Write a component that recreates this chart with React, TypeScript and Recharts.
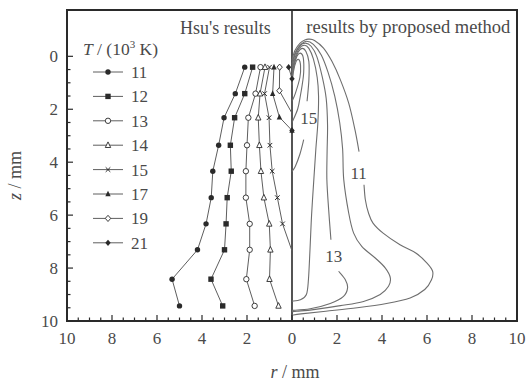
import {
  ComposedChart,
  Line,
  XAxis,
  YAxis,
  ReferenceArea,
  ReferenceLine,
  ReferenceDot,
  Legend,
} from "recharts";

// ---- data (r in mm, z in mm) ----
// Hsu's results (left half, plotted at -r)
const hsu11: [number, number][] = [[2.1, 0.41], [2.52, 1.41], [3.02, 2.32], [3.26, 3.36], [3.52, 4.34], [3.59, 5.34], [3.82, 6.33], [4.2, 7.31], [5.33, 8.42], [5.0, 9.43]];
const hsu12: [number, number][] = [[1.75, 0.41], [2.1, 1.41], [2.55, 2.32], [2.74, 3.36], [2.7, 4.34], [2.88, 5.34], [2.93, 6.33], [3.0, 7.31], [3.6, 8.42], [3.08, 9.43]];
const hsu13: [number, number][] = [[1.4, 0.41], [1.62, 1.41], [1.94, 2.32], [2.0, 3.36], [2.05, 4.34], [2.05, 5.34], [1.88, 6.33], [1.88, 7.31], [2.03, 8.42], [1.66, 9.43]];
const hsu14: [number, number][] = [[1.2, 0.41], [1.42, 1.41], [1.5, 2.32], [1.45, 3.36], [1.38, 4.34], [1.25, 5.34], [1.01, 6.33], [0.96, 7.31], [1.0, 8.42], [0.6, 9.43]];
const hsu15: [number, number][] = [[1.0, 0.41], [1.22, 1.41], [1.02, 2.32], [0.98, 3.36], [0.88, 4.34], [0.65, 5.34], [0.42, 6.33], [0, 7.35]];
const hsu17: [number, number][] = [[0.8, 0.41], [0.86, 1.41], [0.56, 2.3], [0, 2.8]];
const hsu19: [number, number][] = [[0.55, 0.41], [0.56, 1.3], [0, 2.15]];
const hsu21: [number, number][] = [[0.15, 0.41], [0, 0.85], [0, 2.8]];

const hsuLevels = ["11", "12", "13", "14", "15", "17", "19", "21"];
const hsuSets = [hsu11, hsu12, hsu13, hsu14, hsu15, hsu17, hsu19, hsu21];
// series whose last point only runs the line into the axis (no symbol drawn there)
const openEnded = ["15", "19"];

// proposed method isotherms (right half); null z = gap for the label
const iso11: [number, number | null][] = [[0, 0.15], [0.13, -0.22], [0.36, -0.5], [0.6, -0.63], [0.74, -0.65], [1.0, -0.6], [1.4, -0.31], [1.78, 0.2], [2.15, 0.89], [2.52, 1.77], [2.8, 2.78], [2.98, 3.6], [3.1, null], [3.2, 4.85], [3.26, 5.42], [3.4, 5.92], [3.6, 6.3], [4.05, 6.68], [4.8, 7.12], [5.5, 7.43], [6.0, 7.81], [6.25, 8.12], [6.2, 8.44], [5.9, 8.81], [5.25, 9.13], [4.2, 9.34], [2.9, 9.5], [1.5, 9.63], [0.4, 9.73], [0, 9.78]];
const iso12: [number, number | null][] = [[0, 0.3], [0.15, -0.15], [0.4, -0.45], [0.65, -0.57], [0.95, -0.45], [1.3, -0.05], [1.6, 0.6], [1.9, 1.5], [2.12, 2.5], [2.25, 3.5], [2.3, 4.66], [2.52, 5.92], [2.74, 6.68], [3.1, 7.18], [3.7, 7.62], [4.15, 8.0], [4.37, 8.37], [4.29, 8.69], [3.92, 9.0], [3.18, 9.26], [2.15, 9.42], [0.96, 9.57], [0.22, 9.63], [0, 9.65]];
const iso13: [number, number | null][] = [[0, 0.45], [0.13, -0.05], [0.35, -0.4], [0.6, -0.5], [0.85, -0.38], [1.1, 0.0], [1.35, 0.8], [1.52, 1.6], [1.58, 2.6], [1.56, 3.6], [1.55, 4.66], [1.63, 5.8], [1.73, 6.93], [1.9, null], [2.07, 8.12], [2.37, 8.44], [2.47, 8.75], [2.29, 9.07], [1.7, 9.34], [0.81, 9.54], [0, 9.6]];
const iso14: [number, number | null][] = [[0, 0.6], [0.12, 0.1], [0.32, -0.3], [0.55, -0.42], [0.75, -0.3], [0.95, 0.1], [1.12, 0.8], [1.18, 1.5], [1.15, 2.5], [1.06, 3.5], [0.97, 4.66], [0.87, 6.0], [0.8, 7.3], [0.73, 8.44], [0.64, 9.0], [0.37, 9.2], [0, 9.25]];
const iso15: [number, number | null][] = [[0, 0.75], [0.1, 0.25], [0.27, -0.15], [0.45, -0.3], [0.62, -0.18], [0.75, 0.2], [0.75, 0.9], [0.67, 1.7], [0.6, null], [0.52, 3.15], [0.35, 3.7], [0.15, 4.15], [0, 4.35]];
const iso17: [number, number | null][] = [[0, 0.9], [0.08, 0.4], [0.22, 0.0], [0.37, -0.12], [0.5, 0.05], [0.52, 0.6], [0.45, 1.1], [0.37, 1.5], [0.25, 2.0], [0, 2.5]];
const iso19: [number, number | null][] = [[0, 1.1], [0.06, 0.6], [0.18, 0.2], [0.3, 0.12], [0.38, 0.35], [0.35, 0.8], [0.15, 1.4], [0, 1.7]];

const isoSets = [iso11, iso12, iso13, iso14, iso15, iso17, iso19];

// contour labels [text, r, z]
const isoLabels: [string, number, number][] = [["11", 2.96, 4.41], ["13", 1.85, 7.54], ["15", 0.74, 2.32]];

const xMajor = [-10, -8, -6, -4, -2, 0, 2, 4, 6, 8, 10];
const yMajor = [0, 2, 4, 6, 8, 10];
const xTicks = Array.from({ length: 41 }, (_, i) => -10 + i * 0.5);
const yTicks = Array.from({ length: 21 }, (_, i) => i * 0.5);

// ---- styling ----
const INK = "#2a2a2a";
const LINE = "#5e5e5e";
const TXT = "#4a4a4a";
const FONT = "Liberation Serif, Times New Roman, Times, serif";
const markerKinds = ["circle", "square", "ocircle", "otri", "cross", "tri", "odiamond", "diamond"];

function Marker({ kind, cx, cy }: { kind: string; cx: number; cy: number }) {
  const s = 2.7;
  switch (kind) {
    case "circle":
      return <circle cx={cx} cy={cy} r={s} fill={INK} />;
    case "square":
      return <rect x={cx - s} y={cy - s} width={2 * s} height={2 * s} fill={INK} />;
    case "ocircle":
      return <circle cx={cx} cy={cy} r={s} fill="#fff" stroke={INK} strokeWidth={0.9} />;
    case "otri":
      return <polygon points={`${cx},${cy - s - 0.6} ${cx - s},${cy + s - 0.4} ${cx + s},${cy + s - 0.4}`} fill="#fff" stroke={INK} strokeWidth={0.9} />;
    case "tri":
      return <polygon points={`${cx},${cy - s - 0.6} ${cx - s},${cy + s - 0.4} ${cx + s},${cy + s - 0.4}`} fill={INK} />;
    case "cross":
      return (
        <g stroke={INK} strokeWidth={1}>
          <line x1={cx - s + 0.4} y1={cy - s + 0.4} x2={cx + s - 0.4} y2={cy + s - 0.4} />
          <line x1={cx - s + 0.4} y1={cy + s - 0.4} x2={cx + s - 0.4} y2={cy - s + 0.4} />
        </g>
      );
    case "odiamond":
      return <polygon points={`${cx},${cy - s - 0.4} ${cx + s},${cy} ${cx},${cy + s + 0.4} ${cx - s},${cy}`} fill="#fff" stroke={INK} strokeWidth={0.9} />;
    default:
      return <polygon points={`${cx},${cy - s - 0.4} ${cx + s},${cy} ${cx},${cy + s + 0.4} ${cx - s},${cy}`} fill={INK} />;
  }
}

// uniform Catmull-Rom through the points (isotherms are not monotone in x or y)
function catmullRom(context: any) {
  let pts: number[][] = [];
  return {
    areaStart() {},
    areaEnd() {},
    lineStart() {
      pts = [];
    },
    point(x: number, y: number) {
      pts.push([+x, +y]);
    },
    lineEnd() {
      if (!pts.length) return;
      context.moveTo(pts[0][0], pts[0][1]);
      for (let i = 0; i < pts.length - 1; i++) {
        const p0 = pts[Math.max(i - 1, 0)];
        const p1 = pts[i];
        const p2 = pts[i + 1];
        const p3 = pts[Math.min(i + 2, pts.length - 1)];
        context.bezierCurveTo(
          p1[0] + (p2[0] - p0[0]) / 6,
          p1[1] + (p2[1] - p0[1]) / 6,
          p2[0] - (p3[0] - p1[0]) / 6,
          p2[1] - (p3[1] - p1[1]) / 6,
          p2[0],
          p2[1]
        );
      }
    },
  };
}

function XTick(props: any) {
  const { x, y, payload } = props;
  const v = payload.value;
  const major = xMajor.includes(v);
  return (
    <g>
      <line x1={x} x2={x} y1={y} y2={y - (major ? 6 : 3.5)} stroke={INK} strokeWidth={1.2} />
      {major && (
        <text x={x} y={y + 23} textAnchor="middle" fill={TXT} fontSize={17} fontFamily={FONT}>
          {Math.abs(v)}
        </text>
      )}
    </g>
  );
}

function YTick(props: any) {
  const { x, y, payload } = props;
  const v = payload.value;
  const major = yMajor.includes(v);
  return (
    <g>
      <line x1={x} x2={x + (major ? 6 : 3.5)} y1={y} y2={y} stroke={INK} strokeWidth={1.2} />
      {major && (
        <text x={x - 9} y={y + 6} textAnchor="end" fill={TXT} fontSize={17} fontFamily={FONT}>
          {v}
        </text>
      )}
    </g>
  );
}

function HsuLegend() {
  return (
    <svg width={110} height={215} style={{ overflow: "visible" }}>
      <text x={13} y={15} fill={TXT} fontSize={17.5} fontFamily={FONT}>
        <tspan fontStyle="italic">T</tspan> / (10
        <tspan dy={-7} fontSize={11}>3</tspan>
        <tspan dy={7}> K)</tspan>
      </text>
      {hsuLevels.map((lv, i) => {
        const cy = 32 + i * 24.4;
        return (
          <g key={lv}>
            <line x1={23} x2={53} y1={cy} y2={cy} stroke={LINE} strokeWidth={1} />
            <Marker kind={markerKinds[i]} cx={38} cy={cy} />
            <text x={61} y={cy + 6} fill={TXT} fontSize={17} fontFamily={FONT}>
              {lv}
            </text>
          </g>
        );
      })}
    </svg>
  );
}

export default function App() {
  return (
    <div style={{ position: "absolute", left: 0, top: 0, width: 526, height: 383, background: "#fff", fontFamily: FONT }}>
      <ComposedChart width={526} height={383} margin={{ top: 10, right: 9, bottom: 2, left: 7 }}>
        <XAxis
          type="number"
          dataKey="r"
          domain={[-10, 10]}
          ticks={xTicks}
          interval={0}
          tick={<XTick />}
          tickLine={false}
          axisLine={false}
          tickSize={0}
          tickMargin={0}
          height={60}
          allowDataOverflow
          label={{
            content: (p: any) => {
              const vb = p.viewBox;
              return (
                <text x={vb.x + vb.width / 2 + 3} y={vb.y + 57} textAnchor="middle" fill={TXT} fontSize={18} fontFamily={FONT}>
                  <tspan fontStyle="italic">r</tspan> / mm
                </text>
              );
            },
          }}
        />
        <YAxis
          type="number"
          dataKey="z"
          domain={[-1.75, 10]}
          reversed
          ticks={yTicks}
          interval={0}
          tick={<YTick />}
          tickLine={false}
          axisLine={false}
          tickSize={0}
          tickMargin={0}
          width={60}
          allowDataOverflow
          label={{
            content: (p: any) => {
              const vb = p.viewBox;
              const cx = vb.x + 14;
              const cy = vb.y + vb.height / 2 + 10;
              return (
                <text x={cx} y={cy} transform={`rotate(-90 ${cx} ${cy})`} textAnchor="middle" fill={TXT} fontSize={18} fontFamily={FONT}>
                  <tspan fontStyle="italic">z</tspan> / mm
                </text>
              );
            },
          }}
        />
        <ReferenceLine x={0} stroke={INK} strokeWidth={1.6} />
        {isoSets.map((set, i) => (
          <Line
            key={`iso${i}`}
            data={set.map(([r, z]) => ({ r, z }))}
            dataKey="z"
            type={catmullRom as any}
            stroke="#6e6e6e"
            strokeWidth={1.1}
            dot={false}
            activeDot={false}
            legendType="none"
            isAnimationActive={false}
          />
        ))}
        {hsuSets.map((set, i) => (
          <Line
            key={`hsu${hsuLevels[i]}`}
            name={hsuLevels[i]}
            data={set.map(([r, z]) => ({ r: -r, z }))}
            dataKey="z"
            type="linear"
            stroke={LINE}
            strokeWidth={1}
            dot={(p: any) =>
              openEnded.includes(hsuLevels[i]) && p.index === set.length - 1 ? (
                <g key={`d${i}-${p.index}`} />
              ) : (
                <Marker key={`d${i}-${p.index}`} kind={markerKinds[i]} cx={p.cx} cy={p.cy} />
              )
            }
            activeDot={false}
            isAnimationActive={false}
          />
        ))}
        {isoLabels.map(([t, r, z]) => (
          <ReferenceDot
            key={`lab${t}`}
            x={r}
            y={z}
            r={0}
            fill="none"
            stroke="none"
            label={{ value: t, position: "center", fill: TXT, fontSize: 17, fontFamily: FONT }}
          />
        ))}
        <ReferenceDot x={-2.96} y={-1.1} r={0} fill="none" stroke="none" label={{ value: "Hsu's results", position: "center", fill: TXT, fontSize: 18, fontFamily: FONT }} />
        <ReferenceDot x={5.17} y={-1.14} r={0} fill="none" stroke="none" label={{ value: "results by proposed method", position: "center", fill: TXT, fontSize: 18.5, fontFamily: FONT }} />
        <ReferenceArea x1={-10} x2={10} y1={-1.75} y2={10} fill="none" stroke={INK} strokeWidth={2} />
        <Legend
          layout="vertical"
          align="center"
          verticalAlign="middle"
          content={() => <HsuLegend />}
          wrapperStyle={{ left: 70, top: 40, width: 110, height: 215 }}
        />
      </ComposedChart>
    </div>
  );
}
